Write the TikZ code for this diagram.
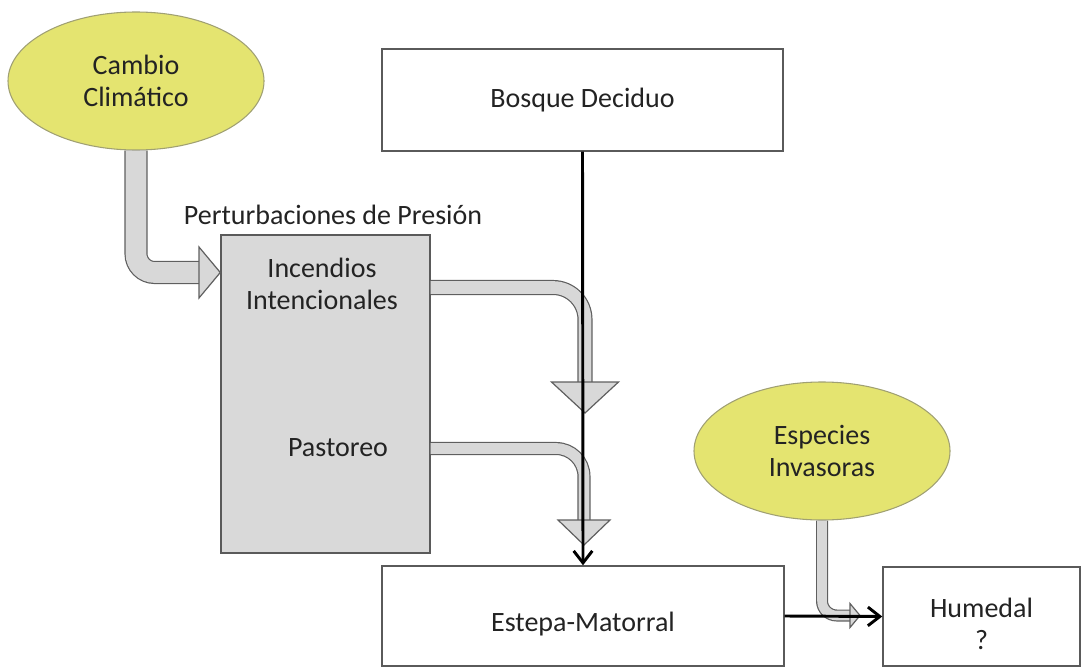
\documentclass[tikz,border=0pt]{standalone}
\usepackage{fontspec}
\setmainfont{Carlito}
\usetikzlibrary{shapes.geometric,arrows.meta}
\definecolor{elfill}{RGB}{228,228,112}
\definecolor{elline}{RGB}{160,160,115}
\definecolor{boxline}{RGB}{90,90,90}
\definecolor{boxfill}{RGB}{217,217,217}
\definecolor{arrfill}{RGB}{216,216,216}
\definecolor{arrline}{RGB}{95,95,95}
\definecolor{txt}{RGB}{35,35,35}
\tikzset{
  driver/.style={ellipse, draw=elline, fill=elfill, line width=0.8pt, minimum width=192pt, minimum height=103.5pt, align=center, text=txt},
  state/.style={rectangle, draw=boxline, line width=1.1pt, align=center, text=txt},
  fat/.style={draw=arrline, line width=0.9pt, double=arrfill, double distance=#1},
  fathead/.style={draw=arrline, line width=0.9pt, fill=arrfill, line join=miter},
  link/.style={black, line width=2.2pt, -{Straight Barb[length=9pt,width=14pt]}}
}
\begin{document}
\begin{tikzpicture}[x=0.75pt, y=-0.75pt, font=\fontsize{21}{24}\selectfont]
        \useasboundingbox (0,0) rectangle (1081,667);
        \node [driver] (cambio) at (136,81) {Cambio\\Climático};
        \node [driver] (especies) at (822,451) {Especies\\Invasoras};
        \node [state, minimum width=300.75pt, minimum height=76.5pt] (bosque) at (582.5,100) {Bosque Deciduo};
        \node [state, fill=boxfill, minimum width=156.75pt, minimum height=238.5pt] (presion) at (325.5,394) {};
        \node [text=txt] (pert) at (333,215) {Perturbaciones de Presión};
        \node [text=txt, align=center] (incendios) at (322,284) {Incendios\\Intencionales};
        \node [text=txt] (pastoreo) at (338,448) {Pastoreo};
        \node [state, minimum width=301.5pt, minimum height=75pt, text height=27.5pt, text depth=4pt] (estepa) at (583,616) {Estepa-Matorral};
        \node [state, minimum width=147.75pt, minimum height=74.25pt, text height=49pt, text depth=0pt] (humedal) at (981.5,616.5) {Humedal\\?};
        % gray arrows
        \coordinate (cb) at (199,272.5);
        \draw [fat=15.5pt, rounded corners=14pt] (cambio.south) |- (cb);
        \draw [fathead] ([shift={(0,-25.5)}]cb) -- (presion.west |- cb) -- ([shift={(0,25.5)}]cb) -- cycle;
        \coordinate (ib) at (585,382);
        \draw [fat=9.5pt, rounded corners=24pt] (presion.east |- 0,287.5) -| (ib);
        \draw [fathead] ([shift={(-33.5,0)}]ib) -- ([shift={(0,31)}]ib) -- ([shift={(33.5,0)}]ib) -- cycle;
        \coordinate (pb) at (584,520);
        \draw [fat=8pt, rounded corners=21pt] (presion.east |- 0,448.5) -| (pb);
        \draw [fathead] ([shift={(-26,0)}]pb) -- ([shift={(0,25)}]pb) -- ([shift={(26,0)}]pb) -- cycle;
        \coordinate (eb) at (850,615.5);
        \draw [fat=7.2pt, rounded corners=11pt] (especies.south) |- (eb);
        \draw [fathead] ([shift={(0,-12)}]eb) -- ([shift={(10,0)}]eb) -- ([shift={(0,12)}]eb) -- cycle;
        % black links
        \draw [link] (bosque.south) -- (estepa.north);
        \draw [link] (estepa.east) -- (humedal.west);
    \end{tikzpicture}
\end{document}
